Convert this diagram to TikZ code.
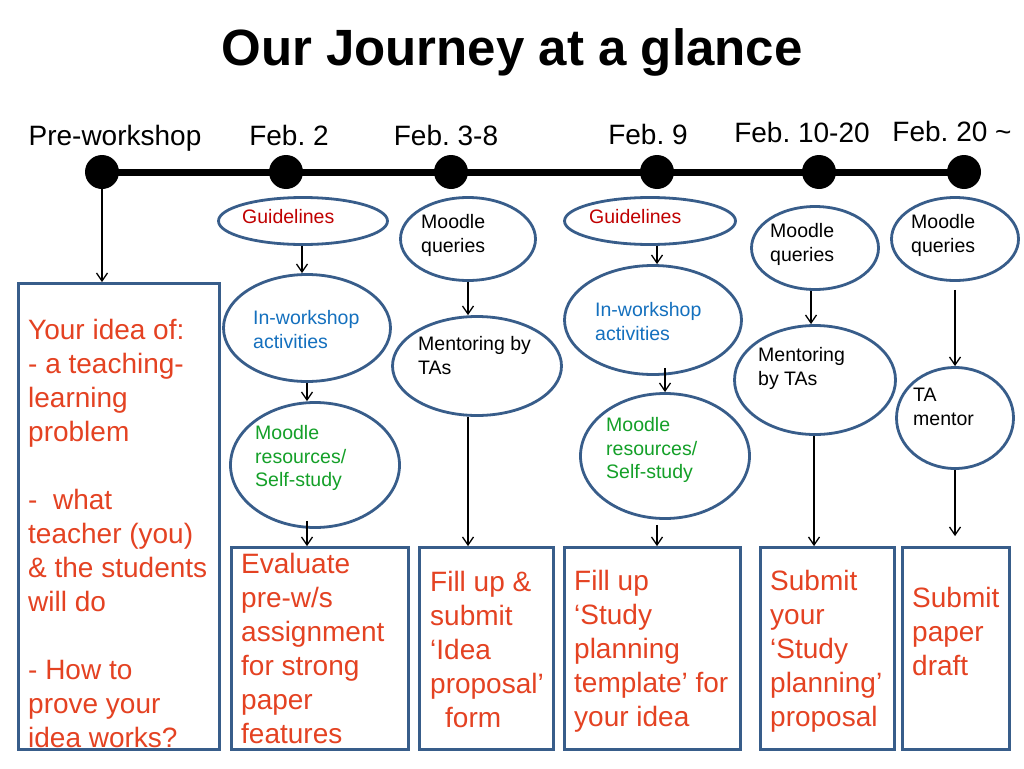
\documentclass[tikz,border=0pt]{standalone}
\usepackage{fontspec}
\setmainfont{Liberation Sans}
\usetikzlibrary{shapes.geometric,arrows.meta,calc}
\definecolor{boxblue}{RGB}{56,93,138}
\definecolor{redtxt}{RGB}{228,66,34}
\definecolor{darkredtxt}{RGB}{192,0,0}
\definecolor{bluetxt}{RGB}{20,112,190}
\definecolor{greentxt}{RGB}{20,160,40}
\frenchspacing
\begin{document}
\begin{tikzpicture}[x=1pt,y=-1pt,
  ell/.style={ellipse, draw=boxblue, line width=2.8pt, inner sep=0pt},
  boxnode/.style={draw=boxblue, line width=2.8pt, inner sep=0pt},
  dot/.style={circle, fill=black, minimum size=34pt, inner sep=0pt},
  txt/.style={anchor=north west, align=left, inner sep=0pt},
  bigred/.style={txt, font=\fontsize{28}{34}\selectfont, text=redtxt},
  smalltxt/.style={txt, font=\fontsize{19.5}{23.8}\selectfont},
  datelbl/.style={anchor=base, inner sep=0pt, font=\fontsize{28}{34}\selectfont},
  arr/.style={line width=1.3pt, -{Straight Barb[length=8pt,width=11pt]}}]
\useasboundingbox (0,0) rectangle (1024,768);
\fill[white] (0,0) rectangle (1024,768);

% title
\node[anchor=base, inner sep=0pt, font=\fontsize{51}{60}\selectfont\bfseries] (title) at (512,66) {Our Journey at a glance};

% timeline dots
\node[dot] (d1) at (102,172) {};
\node[dot] (d2) at (286,172) {};
\node[dot] (d3) at (451,172) {};
\node[dot] (d4) at (657,172) {};
\node[dot] (d5) at (819,172) {};
\node[dot] (d6) at (964,172) {};
\draw[line width=7pt] (d1.center) -- (d6.center);

% date labels
\node[datelbl] (l1) at (115,145) {Pre-workshop};
\node[datelbl] (l2) at (289,145) {Feb. 2};
\node[datelbl] (l3) at (446,145) {Feb. 3-8};
\node[datelbl] (l4) at (648,144) {Feb. 9};
\node[datelbl] (l5) at (802,142) {Feb. 10-20};
\node[datelbl] (l6) at (952,141) {Feb. 20 \textasciitilde};

% ellipses
\node[ell, minimum width=169pt, minimum height=47pt] (g1) at (303,221) {};
\node[ell, minimum width=167pt, minimum height=107pt] (iw1) at (307,328) {};
\node[ell, minimum width=169pt, minimum height=125pt] (mr1) at (315,465) {};
\node[ell, minimum width=135pt, minimum height=83pt] (mq2) at (468,239) {};
\node[ell, minimum width=169pt, minimum height=99pt] (mt2) at (477,366) {};
\node[ell, minimum width=171pt, minimum height=47pt] (g3) at (650,221) {};
\node[ell, minimum width=177pt, minimum height=109pt] (iw3) at (653,320) {};
\node[ell, minimum width=169pt, minimum height=125pt] (mr3) at (665,456) {};
\node[ell, minimum width=127pt, minimum height=83pt] (mq4) at (815,248) {};
\node[ell, minimum width=161pt, minimum height=109pt] (mt4) at (815,380) {};
\node[ell, minimum width=127pt, minimum height=83pt] (mq5) at (955,239) {};
\node[ell, minimum width=117pt, minimum height=101pt] (ta5) at (955,418) {};

% ellipse texts
\node[smalltxt, text=darkredtxt] (tg1) at (242,209) {Guidelines};
\node[smalltxt, text=bluetxt] (tiw1) at (253,310) {In-workshop\\activities};
\node[smalltxt, text=greentxt] (tmr1) at (255,425) {Moodle\\resources/\\Self-study};
\node[smalltxt] (tmq2) at (421,214) {Moodle\\queries};
\node[smalltxt] (tmt2) at (418,336) {Mentoring by\\TAs};
\node[smalltxt, text=darkredtxt] (tg3) at (589,209) {Guidelines};
\node[smalltxt, text=bluetxt] (tiw3) at (595,302) {In-workshop\\activities};
\node[smalltxt, text=greentxt] (tmr3) at (606,417) {Moodle\\resources/\\Self-study};
\node[smalltxt] (tmq4) at (770,223) {Moodle\\queries};
\node[smalltxt] (tmt4) at (758,347) {Mentoring\\by TAs};
\node[smalltxt] (tmq5) at (911,214) {Moodle\\queries};
\node[smalltxt] (tta5) at (913,388) {TA\\mentor};

% boxes
\node[boxnode, minimum width=201pt, minimum height=466pt] (b1) at (119,516.5) {};
\node[boxnode, minimum width=177pt, minimum height=202pt] (b2) at (320,648.5) {};
\node[boxnode, minimum width=134pt, minimum height=202pt] (b3) at (486.5,648.5) {};
\node[boxnode, minimum width=176pt, minimum height=202pt] (b4) at (652.5,648.5) {};
\node[boxnode, minimum width=134pt, minimum height=202pt] (b5) at (827.5,648.5) {};
\node[boxnode, minimum width=107pt, minimum height=202pt] (b6) at (956,648.5) {};

% box texts
\node[bigred] (tb1) at (28,319) {Your idea of:\\- a teaching-\\learning\\problem\\[34pt]-\ \ what\\teacher (you)\\\& the students\\will do\\[34pt]- How to\\prove your\\idea works?};
\node[bigred] (tb2) at (241,553) {Evaluate\\pre-w/s\\assignment\\for strong\\paper\\features};
\node[bigred] (tb3) at (430,571) {Fill up \&\\submit\\‘Idea\\proposal’\\\hspace*{15pt}form};
\node[bigred] (tb4) at (574,570) {Fill up\\‘Study\\planning\\template’ for\\your idea};
\node[bigred] (tb5) at (770,570) {Submit\\your\\‘Study\\planning’\\proposal};
\node[bigred] (tb6) at (912,587) {Submit\\paper\\draft};

% arrow columns
\coordinate (xa) at (302,0);
\coordinate (xb) at (307,0);
\coordinate (xc) at (468,0);
\coordinate (xd) at (657,0);
\coordinate (xe) at (665,0);
\coordinate (xf) at (811,0);
\coordinate (xg) at (814,0);
\coordinate (xh) at (955,0);

% connectors
\draw[arr] (d1.south) -- (d1 |- b1.north);
\draw[arr] (xa |- g1.south) -- (xa |- iw1.north);
\draw[arr] (xb |- iw1.south) -- (xb |- mr1.north);
\draw[arr] ($(xb |- mr1.south)+(0,-8)$) -- (xb |- b2.north);
\draw[arr] (xc |- mq2.south) -- (xc |- mt2.north);
\draw[arr] (xc |- mt2.south) -- (xc |- b3.north);
\draw[arr] (xd |- g3.south) -- (xd |- iw3.north);
\draw[arr] ($(xe |- iw3.south)+(0,-8)$) -- (xe |- mr3.north);
\draw[arr] ($(xd |- mr3.south)+(0,5)$) -- (xd |- b4.north);
\draw[arr] (xf |- mq4.south) -- (xf |- mt4.north);
\draw[arr] (xg |- mt4.south) -- (xg |- b5.north);
\draw[arr] ($(xh |- mq5.south)+(0,8)$) -- (xh |- ta5.north);
\draw[arr] (xh |- ta5.south) -- ($(xh |- b6.north)+(0,-10)$);
\end{tikzpicture}
\end{document}
